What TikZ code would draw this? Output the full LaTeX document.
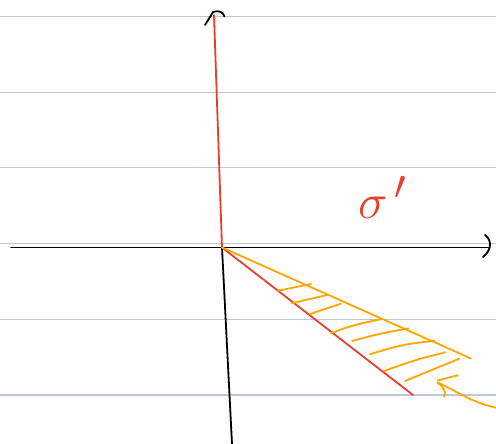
\documentclass[tikz,border=0pt]{standalone}
\usepackage{amsmath}
\usepackage{xcolor}
\usepackage{tikz}
\usetikzlibrary{calc}
\definecolor{paperline}{RGB}{188,200,216}
\definecolor{sketchred}{RGB}{232,62,44}
\definecolor{sketchorange}{RGB}{255,165,0}

\begin{document}
\begin{tikzpicture}[x=1pt, y=-1pt,
    ruled/.style={paperline, line width=1.1pt},
    axis/.style={black, line width=1.8pt, line cap=round, line join=round},
    redline/.style={sketchred, line width=1.8pt, line cap=round},
    orangeline/.style={sketchorange, line width=1.8pt, line cap=round, line join=round}]
    \useasboundingbox (0,0) rectangle (496,444);

    % Ruled paper
    \draw[ruled] (0,16.5) -- (496,16.5);
    \draw[ruled] (0,92.2) -- (496,92.2);
    \draw[ruled] (0,167.9) -- (496,167.9);
    \draw[ruled] (0,243.6) -- (496,243.6);
    \draw[ruled] (0,319.3) -- (496,319.3);
    \draw[ruled] (0,395) -- (496,395);

    % Points
    \coordinate (O) at (222,247.5);
    \coordinate (xleft) at (11,247.5);
    \coordinate (xright) at (490,247.5);
    \coordinate (ytop) at (213,12);
    \coordinate (ybot) at (232,444);
    \coordinate (redend) at (413,395);
    \coordinate (orangeend) at (471,358.5);

    % Axes
    \draw[axis] (xleft) -- (xright);
    \draw[axis] (485,235) .. controls (492,240) and (492,250) .. (483,257);
    \draw[axis] (O) -- (ybot);
    \draw[axis] (205,25) -- (ytop) .. controls (219,10) and (223,12) .. (224.5,16.5);
    \draw[redline] (O) -- (214,15);

    % Region boundaries
    \draw[redline] (O) -- (redend);
    \draw[orangeline] (O) -- (orangeend);

    % Hatching
    \draw[orangeline] (278,290.7) -- (311,284);
    \draw[orangeline] (291.7,303.3) -- (328.3,294.7);
    \draw[orangeline] (310,314) -- (341,303.7);
    \draw[orangeline] (331,333.3) .. controls (350,326) .. (380,319.3);
    \draw[orangeline] (352,341) .. controls (378,334) .. (408.7,328.3);
    \draw[orangeline] (370,354.3) .. controls (400,345) .. (434.3,340.7);
    \draw[orangeline] (384,371) .. controls (415,360) .. (445.3,352.3);
    \draw[orangeline] (405,381) .. controls (432,370) .. (459.3,358.7);

    % Pointer
    \draw[orangeline] (496,407.7) .. controls (470,402) and (455,390) .. (437.7,382.5);
    \draw[orangeline] (437.7,380.5) -- (457.7,375.3);
    \draw[orangeline] (437.7,383) .. controls (444,387) and (446,392) .. (444.3,396.7);

    % Label
    \node[sketchred, font=\Huge, scale=2, anchor=base west, inner sep=0pt] (sig) at (358,218) {$\sigma^{\,\prime}$};
\end{tikzpicture}
\end{document}
